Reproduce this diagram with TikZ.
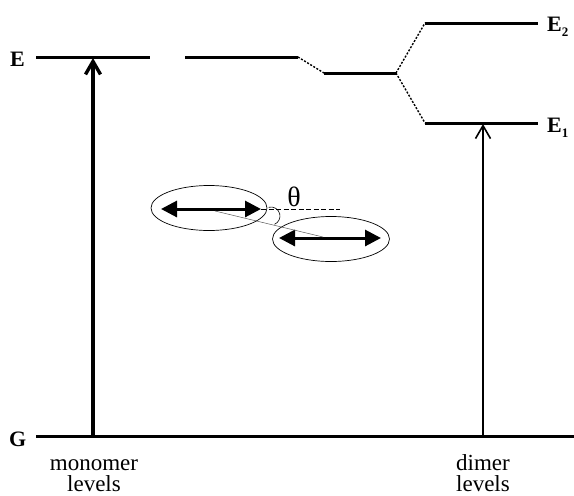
\documentclass[tikz,border=0pt]{standalone}
\usepackage{fontspec}
\setmainfont{Liberation Serif}
\usetikzlibrary{arrows.meta,shapes.geometric}
\tikzset{
  level/.style={line width=3pt},
  link/.style={line width=1.4pt, dash pattern=on 2pt off 1.6pt},
  lbl/.style={font=\fontsize{22}{22}\selectfont\bfseries, inner sep=0pt, anchor=base west},
  captxt/.style={font=\fontsize{23}{24}\selectfont, inner sep=0pt, anchor=base, text depth=0pt},
  dip/.style={line width=3pt, {Triangle[length=16pt,width=16pt]}-{Triangle[length=16pt,width=16pt]}},
  mol/.style={line width=0.7pt},
}
\begin{document}
\begin{tikzpicture}[x=1pt,y=-1pt]
\useasboundingbox (0,0) rectangle (574,496);
% level coordinates
\coordinate (e1a) at (36,57);  \coordinate (e1b) at (150,57);
\coordinate (e2a) at (185,57); \coordinate (e2b) at (298,57);
\coordinate (ma) at (324,73);  \coordinate (mb) at (396,73);
\coordinate (ua) at (425,23);  \coordinate (ub) at (538,23);
\coordinate (la) at (425,123); \coordinate (lb) at (538,123);
\coordinate (ga) at (36,436);  \coordinate (gb) at (574,436);
\draw[level] (e1a) -- (e1b);
\draw[level] (e2a) -- (e2b);
\draw[level] (ma) -- (mb);
\draw[level] (ua) -- (ub);
\draw[level] (la) -- (lb);
\draw[level] (ga) -- (gb);
\draw[link] (e2b) -- (ma);
\draw[link] (mb) -- (ua);
\draw[link] (mb) -- (la);
% labels
\node[lbl] (lE) at (10,66) {E};
\node[lbl] (lG) at (9,446) {G};
\node[lbl] (lE2) at (547,31) {E\raisebox{-5pt}{\fontsize{13}{14}\selectfont 2}};
\node[lbl] (lE1) at (547,132) {E\raisebox{-5pt}{\fontsize{13}{14}\selectfont 1}};
% transitions
\coordinate (mg) at (93,436); \coordinate (me) at (93,58);
\coordinate (dg) at (483,436); \coordinate (de) at (483,124);
\draw[-{Straight Barb[length=13pt,width=15pt]}, line width=3.4pt] (mg) -- (me);
\draw[-{Straight Barb[length=13pt,width=15pt]}, line width=1.6pt] (dg) -- (de);
\node[captxt] (cm1) at (94,470) {monomer};
\node[captxt] (cm2) at (94,491) {levels};
\node[captxt] (cd1) at (483,470) {dimer};
\node[captxt] (cd2) at (483,491) {levels};
% molecules
\node[mol, draw, ellipse, minimum width=116pt, minimum height=45pt, inner sep=0pt] (m1) at (209,208) {};
\node[mol, draw, ellipse, minimum width=117pt, minimum height=45pt, inner sep=0pt] (m2) at (331,239) {};
\coordinate (a1l) at (161,209); \coordinate (a1r) at (261,209);
\coordinate (a2l) at (279,238); \coordinate (a2r) at (381,238);
\draw[dip] (a1l) -- (a1r);
\draw[dip] (a2l) -- (a2r);
\coordinate (c1) at (215,211); \coordinate (c2) at (323,237);
\draw[line width=0.5pt, gray!70!black] (c1) -- (c2);
\coordinate (dend) at (340,209);
\draw[line width=0.8pt, dash pattern=on 5pt off 2.5pt] (a1r) -- (dend);
\draw[line width=0.6pt] (271,216) ++(-105:9) arc[start angle=-105, end angle=67, radius=9];
\node[font=\fontsize{28}{28}\selectfont, inner sep=0pt] (th) at (294,197) {θ};
\end{tikzpicture}
\end{document}
